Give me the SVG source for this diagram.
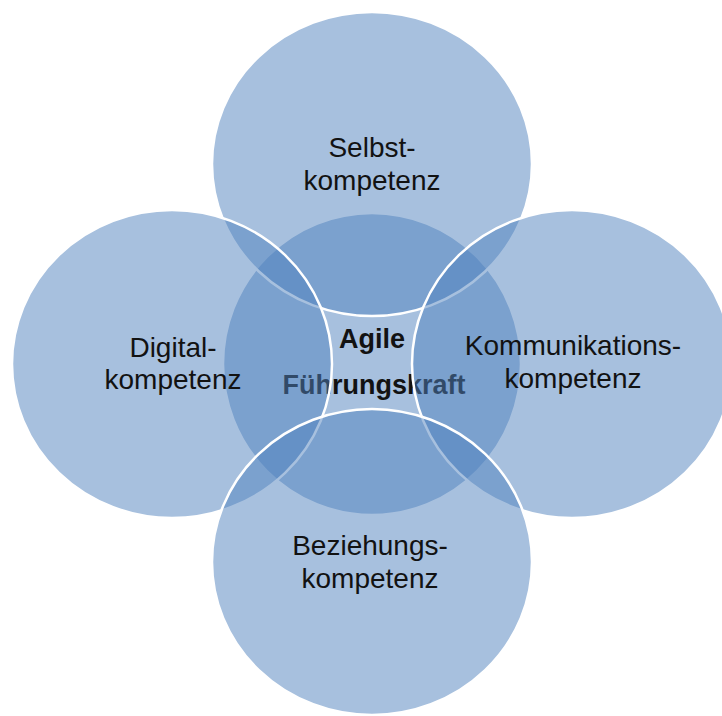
<svg xmlns="http://www.w3.org/2000/svg" width="722" height="716" viewBox="0 0 722 716">
  <style>
    .c { fill: #4F81BD; fill-opacity: 0.5; stroke: #FFFFFF; stroke-width: 2.5; }
    .t { font-family: "Liberation Sans", Arial, sans-serif; font-size: 28px; fill: #121212; text-anchor: middle; }
    .b { font-weight: bold; font-size: 27px; }
  </style>
  <rect x="0" y="0" width="722" height="716" fill="#FFFFFF"/>
  <g id="center">
    <ellipse class="c" cx="372" cy="364" rx="149" ry="151"/>
    <text class="t b" x="372" y="348">Agile</text>
    <text class="t b" x="374" y="394">Führungskraft</text>
  </g>
  <g id="selbstkompetenz">
    <ellipse class="c" cx="372" cy="164" rx="160" ry="152"/>
    <text class="t" x="372" y="157">Selbst-</text>
    <text class="t" x="372" y="190">kompetenz</text>
  </g>
  <g id="digitalkompetenz">
    <ellipse class="c" cx="172" cy="364" rx="160" ry="154"/>
    <text class="t" x="173" y="357">Digital-</text>
    <text class="t" x="173" y="389">kompetenz</text>
  </g>
  <g id="kommunikationskompetenz">
    <ellipse class="c" cx="572" cy="364" rx="160" ry="154"/>
    <text class="t" x="573" y="355">Kommunikations-</text>
    <text class="t" x="573" y="388">kompetenz</text>
  </g>
  <g id="beziehungskompetenz">
    <ellipse class="c" cx="372" cy="562" rx="160" ry="153"/>
    <text class="t" x="370" y="555">Beziehungs-</text>
    <text class="t" x="370" y="588">kompetenz</text>
  </g>
  <g id="connectors"/>
</svg>
